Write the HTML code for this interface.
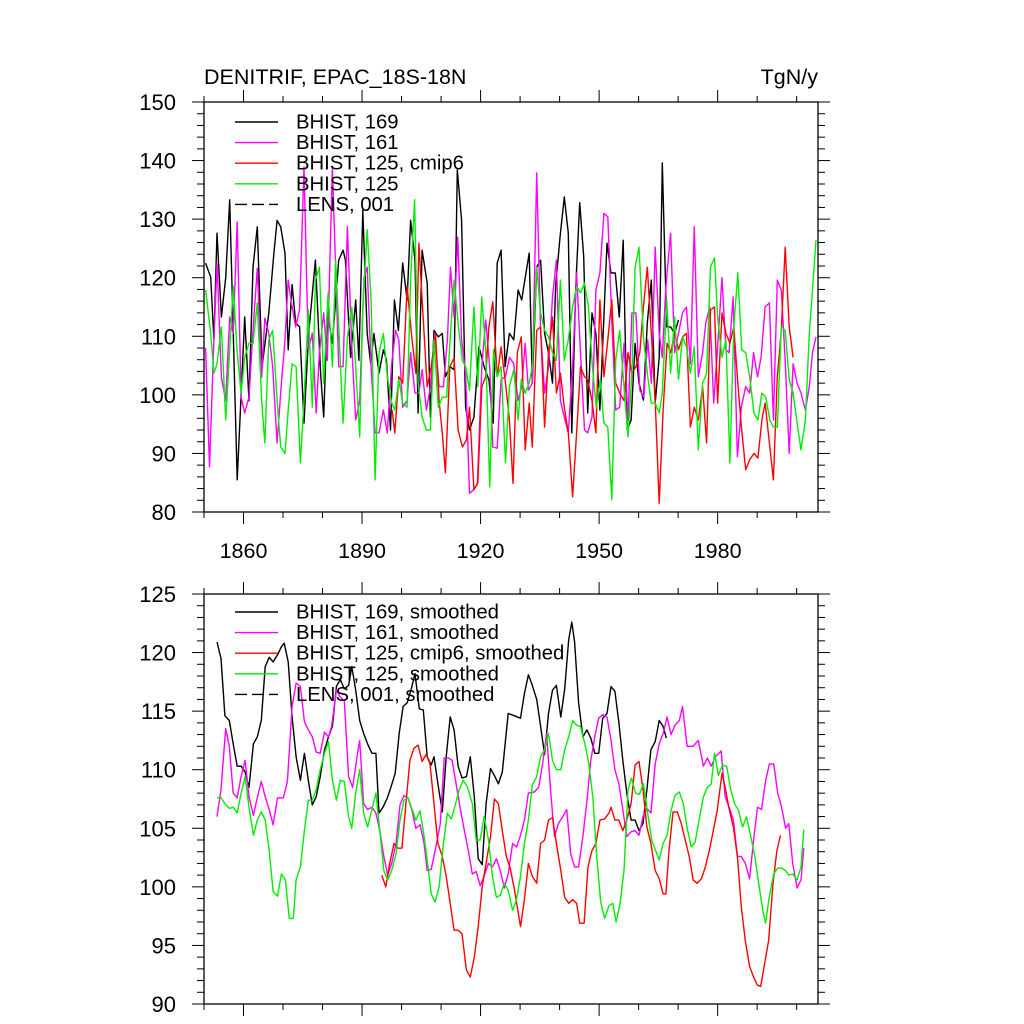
<!DOCTYPE html>
<html><head><meta charset="utf-8"><style>
html,body{margin:0;padding:0;background:#fff;}
svg{display:block;font-family:"Liberation Sans",sans-serif;}
</style></head><body>
<svg id="c" width="1024" height="1024" viewBox="0 0 1024 1024" xmlns="http://www.w3.org/2000/svg">
<rect width="1024" height="1024" fill="#fff"/>
<text x="204" y="84" font-size="21.5">DENITRIF, EPAC_18S-18N</text>
<text x="818" y="84" font-size="21.5" text-anchor="end">TgN/y</text>
<g id="top"></g>
<g id="bot"></g>
</svg>
<script>
// ---------- top panel data (annual) ----------
const blackYr=[1850.4,1851.7,1852.5,1853.3,1854.4,1855.5,1856.5,1858.4,1860.3,1861.4,1862.4,1863.5,1864.7,1866.4,1867.7,1868.5,1869.4,1870.5,1871.3,1872.3,1873.2,1874.2,1875.3,1876.5,1878.2,1879.5,1880.3,1881.2,1882.5,1884.1,1885.2,1885.8,1887.1,1888.4,1889.2,1890.2,1891.3,1892.2,1893.0,1894.3,1895.4,1896.2,1897.2,1898.2,1899.2,1900.3,1901.4,1902.3,1903.4,1904.2,1905.2,1906.5,1907.3,1908.2,1909.3,1910.3,1911.1,1912.2,1913.3,1914.1,1915.2,1916.2,1917.2,1918.3,1919.6,1920.9,1922.1,1923.2,1924.2,1925.2,1926.2,1927.3,1928.4,1929.5,1930.4,1931.3,1932.3,1933.1,1934.2,1935.2,1936.2,1937.2,1938.2,1939.0,1940.1,1941.2,1942.2,1943.1,1944.1,1945.1,1946.1,1947.1,1948.2,1949.2,1950.2,1951.2,1952.0,1953.0,1954.1,1955.1,1956.1,1957.1,1958.1,1959.1,1960.1,1961.2,1962.2,1963.2,1964.2,1965.2,1966.0,1967.1,1968.1,1969.1,1970.1];
const blackVal=[122.5,120.1,109.4,127.6,113.3,120,133.3,85.5,113.3,99,121.8,128.7,104.8,114,124.2,129.8,128.7,124.2,107.7,118.8,112.3,111.6,95.2,110.5,123,103.7,96.2,114,108.8,123,124.7,123,106.4,116.2,105.9,131.5,110.5,105.3,110.5,103.7,107.7,105.9,94,116.2,111,122.5,116.2,129.8,123,96.9,124.7,119.1,96.2,111,109.9,110.5,103.1,104.8,104.3,138.4,129.8,97.9,94,96.2,108.2,104.8,102.6,95.2,122.5,124.7,104.8,110.5,109.4,117.9,116.2,120,124.2,102,121.8,123,110.5,107.2,102,118.5,126.9,133.8,127.6,93.5,118.5,132.8,123.6,96.9,114,110.5,97.4,113.3,125.9,120.8,120.8,113.3,126.4,94,95.7,108.8,102,99.1,112.3,119.6,98.6,106.4,139.6,111.6,111.6,110.5,112.8];
const magYr=[1850.4,1851.4,1852.5,1853.3,1854.4,1855.5,1856.5,1857.4,1858.4,1859.4,1860.3,1861.4,1862.4,1863.5,1864.6,1865.4,1866.4,1867.4,1868.5,1869.6,1870.5,1871.3,1872.3,1873.2,1874.2,1875.3,1876.4,1877.4,1878.4,1879.2,1880.3,1881.2,1882.5,1883.3,1884.1,1885.2,1886.3,1887.4,1888.4,1889.4,1890.5,1891.3,1892.3,1893.3,1894.3,1895.4,1896.4,1897.5,1898.5,1899.3,1900.3,1901.4,1902.3,1903.4,1904.4,1905.2,1906.3,1907.3,1908.4,1909.5,1910.6,1911.6,1912.4,1913.3,1914.2,1915.2,1916.2,1917.2,1918.3,1919.2,1920.3,1921.3,1922.3,1923.1,1924.2,1925.2,1926.3,1927.3,1928.4,1929.5,1930.4,1931.3,1932.1,1933.1,1934.2,1935.2,1936.2,1937.2,1938.2,1939.2,1940.2,1941.2,1942.2,1943.3,1944.3,1945.3,1946.3,1947.1,1948.2,1949.2,1950.2,1951.2,1952.2,1953.2,1954.2,1955.2,1956.3,1957.3,1958.3,1959.3,1960.3,1961.3,1962.3,1963.2,1964.2,1965.2,1966.0,1966.9,1968.1,1969.1,1970.1,1971.1,1972.1,1973.1,1974.1,1975.1,1976.2,1977.0,1978.0,1979.0,1980.0,1981.1,1982.1,1982.9,1983.9,1985.0,1986.0,1987.1,1988.1,1989.1,1990.1,1991.0,1992.0,1993.1,1994.1,1995.1,1996.1,1997.1,1998.1,1999.1,2000.1,2001.1,2002.2,2003.2,2004.0,2004.9];
const magVal=[108,87.7,109.4,122.5,103,99,113.3,110.5,129.5,99.6,96.9,99.6,111,121.6,103,113.1,110.5,104.8,91.8,102,109.4,119.6,115,111.6,114.5,138.9,107.7,110.5,96.9,107.2,114,105.9,138.9,121.8,104.8,104.8,128.7,108.2,95.7,99,120,121.8,104.8,93.5,93.5,97.4,93.5,105.3,111,109.4,97.9,99,107.2,100.3,100.3,104.3,97.4,101.4,110.5,101.4,101.4,109.4,121.8,113.3,126.9,109.4,103.7,83.2,83.8,84.9,104.8,112.8,104.8,91.1,90.9,102.6,103.1,106.4,105.3,99,101.4,108.8,100.8,102,137.9,111,100.3,104.8,116.7,123,99,96.2,93.5,104.8,120.8,107.2,94,93.5,96.2,117.9,120.8,131,130.4,112.8,97.4,97.9,108.8,95.7,114,114,100.8,99.6,109.4,102,125.2,110.5,106.4,118.5,127.6,107.2,110.5,114,115,105.3,128.7,103.1,107.2,112.3,115,98.6,108.2,120,107.7,107.2,116.7,89.4,97.9,101.4,100.3,107.2,103.1,106.4,115,115.7,95.7,119.6,117.9,105.9,90,105.3,102,100.3,97.4,101.4,107.2,109.9];
const redYr=[1897.6,1898.3,1899.3,1900.3,1901.4,1902.5,1903.6,1904.4,1905.4,1906.5,1907.5,1908.6,1909.5,1910.3,1911.1,1912.2,1913.3,1914.3,1915.4,1916.4,1917.2,1918.3,1919.3,1920.3,1921.3,1922.1,1923.1,1924.2,1925.2,1926.3,1927.3,1928.2,1929.3,1930.3,1931.3,1932.3,1933.1,1934.2,1935.2,1936.2,1937.2,1938.2,1939.2,1940.2,1941.2,1942.2,1943.3,1944.3,1945.3,1946.3,1947.1,1948.2,1949.2,1950.2,1951.2,1952.2,1953.2,1954.2,1955.2,1956.3,1957.3,1958.3,1959.3,1960.3,1961.2,1962.2,1963.2,1964.2,1965.2,1966.2,1967.2,1968.1,1969.1,1970.1,1971.1,1972.1,1973.1,1974.1,1975.1,1976.2,1977.2,1978.2,1979.2,1980.0,1981.1,1982.1,1983.1,1984.1,1985.1,1986.1,1987.1,1988.1,1989.2,1990.2,1991.2,1992.0,1993.1,1994.1,1995.1,1996.1,1997.1,1998.1,1999.1];
const redVal=[97.4,93.5,103.1,102,118.5,110.5,103.7,125.9,114,101.4,104.8,110.5,99,93.5,86.7,104.8,106.3,94,91.1,92.3,97.9,83.8,84.9,101.4,103.1,111.6,115.9,103.1,108.2,102,95.7,84.9,107.2,109.9,90.6,98.6,91.1,111,111.6,94.5,107.2,113.3,100.3,103.7,97.9,93.5,82.6,93.5,104.8,103.1,102.6,99,93.5,116.2,103.1,109.4,116.2,102,100.3,99,107.2,103.7,104.8,107.2,115,121.8,110.5,99,81.5,97.4,108.8,107.2,110.5,107.7,109.9,110.5,94.5,97.9,95.7,101.4,91.8,114.5,115,98.6,114,110.5,108.8,111.6,102,94,87.2,88.9,90,89.2,95.7,98.6,91.8,85.5,103.1,111,125.2,111.6,106.4];
const grnYr=[1850.4,1851.7,1852.5,1853.3,1854.4,1855.5,1856.5,1857.4,1858.4,1859.4,1860.3,1861.4,1862.4,1863.5,1864.6,1865.4,1866.4,1867.4,1868.5,1869.4,1870.5,1871.3,1872.3,1873.3,1874.4,1875.3,1876.4,1877.4,1878.2,1879.2,1880.3,1881.4,1882.5,1883.3,1884.1,1885.2,1886.3,1887.4,1888.4,1889.4,1890.2,1891.3,1892.3,1893.3,1894.3,1895.4,1896.4,1897.5,1898.3,1899.3,1900.3,1901.4,1902.3,1903.3,1904.2,1905.2,1906.3,1907.3,1908.2,1909.3,1910.3,1911.4,1912.4,1913.3,1914.4,1915.4,1916.2,1917.2,1918.3,1919.3,1920.3,1921.3,1922.3,1923.3,1924.2,1925.2,1926.3,1927.3,1928.4,1929.5,1930.3,1931.3,1932.3,1933.1,1934.2,1935.2,1936.2,1937.2,1938.2,1939.2,1940.2,1941.2,1942.2,1943.3,1944.3,1945.3,1946.3,1947.3,1948.3,1949.3,1950.3,1951.2,1952.2,1953.2,1954.2,1955.2,1956.3,1957.3,1958.3,1959.1,1960.1,1961.2,1962.2,1963.2,1964.2,1965.2,1966.0,1967.1,1968.1,1969.1,1970.1,1971.1,1972.1,1973.1,1974.1,1975.1,1976.2,1977.2,1978.2,1979.2,1980.0,1981.1,1982.1,1983.1,1984.1,1985.1,1986.1,1987.1,1988.1,1989.2,1990.2,1991.2,1992.2,1993.2,1994.1,1995.1,1996.1,1997.1,1998.1,1999.1,2000.1,2001.1,2002.2,2003.2,2004.0,2004.9];
const grnVal=[117.9,110.5,103.7,105.3,111.6,95.7,107.7,118.5,107.2,100.3,106.4,108.8,108.8,115.7,99,91.8,109.4,111,99,91.1,90,97.4,105.3,104.8,88.4,99,114.5,97.9,119.6,121.8,102,117.4,104.8,123,111.6,95.2,109.9,115,104.8,92.8,115,128.2,116.2,85.5,107.2,110.5,103.1,98.6,97.4,102.6,98.6,97.9,119.6,133.3,102,96.2,94,94,109.4,97.9,99.6,99.6,110.5,119.6,111.6,105.9,104.8,100.8,115,101.4,116.7,107.7,84.3,107.7,103.1,104.8,88.4,101.4,104.3,95.7,102.6,100.3,102,104.8,121.8,114,111,109.9,107.2,105.9,119.6,105.9,109.4,115,118.5,117.4,119.1,115,104.8,97.9,102.6,95.2,94.5,82.1,105.9,111,101.4,92.8,103.7,121.8,125.2,109.9,103.7,98.6,98.6,96.9,100.3,116.2,103.7,113.3,102.6,109.9,108.2,103.7,108.2,90.6,102,103.7,121.8,123.4,113.3,106.4,109.4,88.4,111.6,120.8,107.7,107.2,103.1,96.9,95.7,100.3,99.6,95.7,94.5,94.5,111.6,111,102.6,100.3,95.2,90.6,95.7,110.5,117.9,126.4];
// ---------- bottom panel data (smoothed) ----------
const sBlackYr=[1853.3,1854.3,1855.3,1856.4,1857.4,1858.4,1859.4,1860.4,1861.4,1862.5,1863.5,1864.5,1865.5,1866.5,1867.5,1868.6,1869.6,1870.3,1871.3,1872.3,1873.3,1874.4,1875.4,1876.4,1877.4,1878.4,1879.4,1880.5,1881.5,1882.5,1883.5,1884.5,1885.5,1886.6,1887.4,1888.4,1889.4,1890.4,1891.4,1892.5,1893.5,1894.3,1895.3,1896.3,1897.3,1898.4,1899.4,1900.4,1901.4,1902.4,1903.4,1904.5,1905.5,1906.5,1907.5,1908.2,1909.2,1910.3,1911.3,1912.3,1913.3,1914.3,1915.3,1916.4,1917.4,1918.4,1919.4,1920.4,1921.4,1922.5,1923.5,1924.5,1925.5,1927.0,1928.6,1930.1,1931.1,1932.1,1933.1,1934.2,1935.2,1936.2,1937.2,1938.2,1939.2,1940.3,1941.3,1942.3,1943.1,1943.8,1944.8,1945.9,1946.9,1947.9,1948.9,1949.9,1950.9,1952.0,1953.0,1954.0,1955.0,1956.0,1957.0,1958.1,1959.1,1960.1,1961.1,1962.1,1963.1,1964.2,1965.2,1966.2,1967.0];
const sBlackVal=[120.9,119.5,114.6,114.2,112.2,110.3,110.3,109.8,108.5,112.2,112.8,114.2,118.8,119.6,119.2,119.8,120.5,120.8,119.2,114.5,111.1,109.1,111.4,109.1,107.0,107.7,109.4,111.7,112.8,113.7,117.1,117.7,116.9,117.2,118.8,116.8,114.2,113.1,112.2,111.4,111.4,106.3,106.8,107.5,108.5,109.7,113.1,115.4,115.7,116.8,118.2,115.2,115.1,111.1,110.4,111.1,108.8,106.4,111.1,114.5,113.4,110.3,109.3,109.4,111.1,107.7,102.4,101.9,107.1,110.1,109.5,108.8,109.8,114.8,114.6,114.4,116.5,118.1,117.2,116.0,113.7,111.3,114.8,116.8,117.2,114.5,116.9,121.1,122.6,120.9,115.7,112.8,113.4,112.7,111.4,111.4,114.4,114.8,117.1,116.7,114.0,110.8,108.0,105.7,105.7,104.8,105.4,108.3,111.7,112.4,114.2,113.7,112.7];
const sMagYr=[1853.3,1854.3,1855.5,1856.4,1857.4,1858.4,1859.4,1860.4,1861.4,1862.5,1863.5,1864.5,1865.5,1866.5,1867.5,1868.6,1870.1,1871.1,1872.3,1873.3,1874.4,1875.4,1876.4,1877.4,1878.4,1879.4,1880.5,1881.5,1882.3,1883.5,1884.5,1885.5,1886.6,1887.6,1888.6,1889.4,1890.4,1891.4,1892.5,1893.5,1894.5,1895.5,1896.5,1897.5,1898.6,1899.6,1900.6,1901.6,1902.6,1903.6,1904.7,1905.7,1906.5,1907.5,1908.7,1909.8,1910.8,1911.8,1912.8,1913.8,1914.8,1915.9,1916.9,1917.9,1918.9,1919.9,1920.9,1922.0,1923.0,1924.0,1925.0,1926.0,1927.0,1928.1,1929.1,1930.1,1931.1,1932.1,1933.6,1934.7,1935.7,1936.7,1937.7,1938.7,1939.7,1940.8,1941.8,1942.8,1943.8,1944.8,1945.9,1946.9,1947.9,1948.9,1949.9,1950.9,1952.0,1953.0,1954.0,1955.0,1956.0,1957.0,1958.1,1959.1,1960.1,1961.1,1962.1,1963.1,1964.2,1965.2,1966.2,1967.2,1968.2,1969.2,1970.3,1971.1,1972.3,1973.8,1975.1,1976.4,1977.4,1978.4,1979.4,1980.9,1981.9,1983.0,1984.0,1985.0,1986.0,1987.0,1988.1,1989.1,1990.1,1991.1,1992.1,1993.1,1994.2,1995.2,1996.2,1997.2,1998.0,1999.0,2000.1,2001.1,2001.8];
const sMagVal=[106.0,108.3,113.5,112.0,108.0,107.6,109.4,110.8,107.7,106.1,107.6,109.0,107.7,106.6,105.3,107.6,107.6,109.0,115.4,117.4,117.1,114.1,113.4,112.8,111.5,111.4,113.2,112.8,113.7,116.8,116.2,115.9,109.4,108.5,110.8,112.5,107.1,106.6,106.8,106.3,104.8,102.6,101.0,102.0,103.7,107.0,107.8,107.6,106.6,105.0,105.3,103.7,101.4,101.5,103.4,105.4,111.0,111.0,110.8,108.8,106.8,104.8,103.1,101.1,101.3,100.1,100.9,102.0,101.7,102.4,101.4,99.9,101.1,103.7,103.4,104.4,105.7,108.0,108.1,108.5,110.5,113.1,108.3,104.3,105.4,106.0,106.6,102.8,101.7,101.7,104.3,107.3,110.8,112.8,114.4,114.7,114.5,112.5,110.0,108.8,106.6,104.3,104.7,104.8,104.4,106.0,106.7,106.3,110.5,112.2,113.1,114.5,113.0,113.8,114.2,115.4,112.0,112.0,112.5,110.3,111.0,110.3,111.1,111.6,107.7,106.7,105.7,102.6,102.6,102.0,100.7,104.0,106.8,106.6,109.0,110.5,110.5,108.0,106.8,105.0,105.4,102.0,99.9,100.6,103.3];
const sRedYr=[1895.0,1896.0,1897.0,1898.1,1899.1,1900.1,1901.1,1902.1,1903.1,1904.2,1905.2,1906.2,1907.2,1908.2,1909.2,1910.3,1911.3,1912.3,1913.3,1914.3,1915.3,1916.4,1917.4,1918.4,1919.4,1920.4,1921.4,1922.5,1923.5,1924.5,1925.5,1926.5,1927.5,1928.6,1930.1,1931.1,1932.1,1933.1,1934.2,1935.2,1936.2,1937.2,1938.2,1939.2,1940.3,1941.3,1942.3,1943.3,1944.3,1945.1,1946.2,1947.2,1948.2,1949.2,1950.2,1951.4,1952.5,1953.0,1954.0,1955.0,1956.0,1957.0,1958.1,1959.1,1960.1,1961.1,1962.1,1963.1,1964.2,1965.2,1966.2,1966.9,1967.7,1968.7,1969.8,1970.8,1971.8,1972.8,1973.8,1974.8,1975.9,1976.9,1977.9,1978.9,1979.9,1981.1,1981.9,1983.0,1984.0,1985.0,1986.0,1987.0,1988.1,1989.1,1990.1,1990.9,1991.9,1992.9,1994.0,1995.0,1995.9];
const sRedVal=[101.0,100.0,102.0,103.7,103.3,103.3,107.1,110.8,111.8,112.1,110.7,111.3,110.5,107.1,103.7,102.6,100.9,98.6,96.3,96.3,96.0,92.9,92.3,94.0,96.6,100.0,102.0,104.3,107.5,107.1,104.8,102.6,101.6,99.7,96.6,98.9,102.0,100.9,100.3,103.7,104.0,105.7,105.9,103.7,101.4,99.1,98.6,98.9,98.6,96.9,96.9,101.7,103.1,103.7,105.7,105.8,106.3,106.8,105.7,105.7,104.8,105.7,107.1,110.4,110.7,108.3,105.1,103.7,101.4,100.7,99.4,99.4,103.1,106.4,106.4,105.4,104.0,102.6,100.6,100.3,100.7,101.7,103.1,104.8,106.5,109.7,108.5,106.5,105.1,102.6,98.3,95.4,93.2,92.3,91.6,91.5,93.5,95.4,100.3,103.1,104.4];
const sGrnYr=[1853.3,1854.3,1855.3,1856.4,1857.4,1858.4,1859.4,1860.4,1861.4,1862.5,1863.5,1864.5,1865.5,1866.5,1867.5,1868.6,1869.6,1870.6,1871.6,1872.6,1873.3,1874.4,1875.4,1876.4,1877.4,1878.4,1879.4,1880.5,1881.5,1882.5,1883.5,1884.5,1885.5,1886.6,1887.4,1888.4,1889.4,1890.4,1891.4,1892.5,1893.5,1894.5,1895.5,1896.5,1897.5,1898.6,1899.6,1900.6,1901.6,1902.6,1903.6,1904.7,1905.7,1906.7,1907.5,1908.5,1909.5,1910.6,1911.6,1912.6,1913.6,1914.6,1915.6,1916.7,1917.9,1918.9,1919.9,1920.9,1922.0,1923.0,1924.0,1925.0,1926.0,1927.0,1928.1,1929.1,1930.1,1931.1,1932.1,1933.1,1934.2,1935.2,1936.2,1937.2,1938.2,1939.2,1940.3,1941.3,1942.3,1943.3,1944.3,1945.3,1946.4,1947.4,1948.4,1949.4,1950.4,1951.4,1952.5,1953.5,1954.3,1955.3,1956.3,1957.3,1958.2,1959.2,1960.2,1961.2,1962.2,1963.3,1964.3,1965.2,1966.2,1967.2,1968.2,1969.2,1970.3,1971.3,1972.3,1973.3,1974.3,1975.3,1976.4,1977.4,1978.4,1979.2,1980.2,1981.2,1982.3,1983.3,1984.3,1985.3,1986.3,1987.3,1988.4,1989.4,1990.4,1991.4,1992.1,1993.1,1994.2,1995.2,1996.2,1997.2,1998.0,1999.0,2000.1,2001.1,2001.8];
const sGrnVal=[107.6,107.6,107.1,106.7,106.8,106.3,108.0,109.4,106.8,104.4,105.7,106.4,105.7,103.1,99.6,99.2,101.1,100.6,97.3,97.3,100.6,101.7,104.8,107.4,107.4,108.3,110.0,111.4,112.4,109.1,107.4,109.1,109.0,106.0,105.0,108.0,110.0,106.3,105.1,106.6,108.0,104.8,101.4,100.6,101.4,102.8,105.7,107.4,107.6,106.7,105.7,106.5,104.3,101.7,99.4,98.7,100.0,103.7,106.3,105.8,107.0,108.3,109.1,108.5,107.1,104.0,104.0,106.0,104.0,100.9,99.1,99.3,100.3,99.7,98.0,98.9,100.9,103.7,105.7,108.7,109.4,111.1,111.7,113.1,110.8,110.0,110.0,111.7,112.8,114.2,113.8,113.7,112.2,110.5,107.7,102.6,98.7,97.3,98.4,98.6,97.0,98.6,101.4,108.3,109.3,108.0,107.9,108.8,106.5,104.0,103.1,102.3,103.7,104.4,106.5,107.8,108.1,107.1,105.0,103.4,103.8,105.7,107.7,108.5,108.8,111.4,109.5,110.4,110.3,108.3,107.1,106.5,105.1,106.0,104.3,102.6,100.3,98.0,96.9,99.2,101.1,101.6,101.6,101.4,101.0,101.1,100.6,101.7,104.9];
// tick labels
const topYTicks=[150,140,130,120,110,100,90,80];
const botYTicks=[125,120,115,110,105,100,95,90];
const xTickYears=[1860,1890,1920,1950,1980];

const NS='http://www.w3.org/2000/svg';
const L=204,R=818,X0=1850,X1=2005.4;
function xs(y){return L+(y-X0)*(R-L)/(X1-X0);}
function mk(tag,attrs,parent){const e=document.createElementNS(NS,tag);for(const k in attrs)e.setAttribute(k,attrs[k]);parent.appendChild(e);return e;}

function panel(g,top,bot,vmin,vmax,major,minor,yTicks,showXLabels,series,legend,legendTop){
  const ys=v=>bot-(v-vmin)*(bot-top)/(vmax-vmin);
  series.forEach(s=>{
    let d='';
    s.yr.forEach((y,i)=>{d+=(i?'L':'M')+xs(y).toFixed(1)+','+ys(s.val[i]).toFixed(1);});
    const p=mk('path',{d:d,fill:'none',stroke:s.color,'stroke-width':1.4,'stroke-linejoin':'round'},g);
    
    
  });
  const fr=mk('rect',{x:L,y:top,width:R-L,height:bot-top,fill:'none',stroke:'#000','stroke-width':1.3},g);
  
  
  for(let v=vmin;v<=vmax+1e-6;v+=minor){
    const isMaj=Math.abs((v-vmin)/major-Math.round((v-vmin)/major))<1e-6;
    const len=isMaj?12:7;const y=ys(v);
    mk('line',{x1:L-len,y1:y,x2:L,y2:y,stroke:'#000','stroke-width':1},g);
    mk('line',{x1:R,y1:y,x2:R+len,y2:y,stroke:'#000','stroke-width':1},g);
  }
  yTicks.forEach(v=>{
    const t=mk('text',{x:176,y:ys(v)+8,'font-size':22,'text-anchor':'end'},g);
    t.textContent=v;
    
    
  });
  for(let yr=1850;yr<=2005;yr+=10){
    const isMaj=(yr-1860)%30===0;const len=isMaj?12:6;const x=xs(yr);
    mk('line',{x1:x,y1:bot,x2:x,y2:bot+len,stroke:'#000','stroke-width':1},g);
    mk('line',{x1:x,y1:top-len,x2:x,y2:top,stroke:'#000','stroke-width':1},g);
  }
  if(showXLabels){
    xTickYears.forEach(yr=>{
      const t=mk('text',{x:xs(yr),y:558,'font-size':21.5,'text-anchor':'middle'},g);
      t.textContent=yr;
      
      
    });
  }
  legend.forEach((it,i)=>{
    const y=legendTop+i*20.6;
    const ln=mk('line',{x1:235,y1:y,x2:278,y2:y,stroke:it.color,'stroke-width':1.4},g);
    if(it.dash)ln.setAttribute('stroke-dasharray','12,5');
    
    
    const t=mk('text',{x:296,y:y+6.5,'font-size':20.3},g);
    t.textContent=it.label;
    
    
  });
}
panel(document.getElementById('top'),102,512,80,150,10,2,topYTicks,true,[
  {yr:blackYr,val:blackVal,color:'#000',name:'series-bhist-169'},
  {yr:magYr,val:magVal,color:'#ff00ff',name:'series-bhist-161'},
  {yr:redYr,val:redVal,color:'#ff0000',name:'series-bhist-125-cmip6'},
  {yr:grnYr,val:grnVal,color:'#00ee00',name:'series-bhist-125'}
],[
  {label:'BHIST, 169',color:'#000'},{label:'BHIST, 161',color:'#ff00ff'},
  {label:'BHIST, 125, cmip6',color:'#ff0000'},{label:'BHIST, 125',color:'#00ee00'},
  {label:'LENS, 001',color:'#000',dash:true}
],122);
panel(document.getElementById('bot'),594,1004,90,125,5,1,botYTicks,false,[
  {yr:sBlackYr,val:sBlackVal,color:'#000',name:'series-bhist-169-smoothed'},
  {yr:sMagYr,val:sMagVal,color:'#ff00ff',name:'series-bhist-161-smoothed'},
  {yr:sRedYr,val:sRedVal,color:'#ff0000',name:'series-bhist-125-cmip6-smoothed'},
  {yr:sGrnYr,val:sGrnVal,color:'#00ee00',name:'series-bhist-125-smoothed'}
],[
  {label:'BHIST, 169, smoothed',color:'#000'},{label:'BHIST, 161, smoothed',color:'#ff00ff'},
  {label:'BHIST, 125, cmip6, smoothed',color:'#ff0000'},{label:'BHIST, 125, smoothed',color:'#00ee00'},
  {label:'LENS, 001, smoothed',color:'#000',dash:true}
],612);
</script>
</body></html>
